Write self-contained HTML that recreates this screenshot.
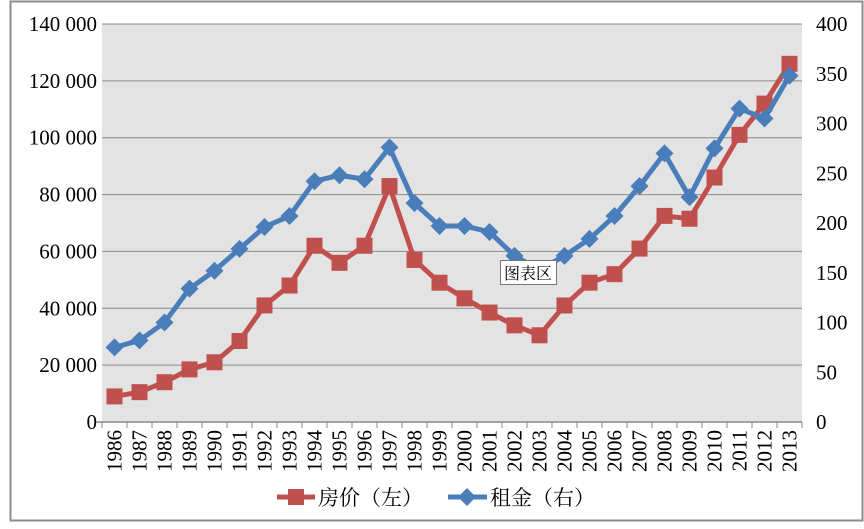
<!DOCTYPE html>
<html><head><meta charset="utf-8"><style>
body{margin:0;background:#fff;}
svg text{font-family:"Liberation Serif","Noto Serif CJK SC",serif;}
</style></head><body>
<svg width="864" height="524" xmlns="http://www.w3.org/2000/svg">
<rect x="10.5" y="1.5" width="852" height="519" fill="#fff" stroke="#8c8c8c" stroke-width="2"/>
<g id="g"></g>
</svg>
<script>
const years=["1986","1987","1988","1989","1990","1991","1992","1993","1994","1995","1996","1997","1998","1999","2000","2001","2002","2003","2004","2005","2006","2007","2008","2009","2010","2011","2012","2013"];
const priceValues=[9000,10500,14000,18500,21000,28500,41000,48000,62000,56000,62000,83000,57000,49000,43500,38500,34000,30500,41000,49000,52000,61000,72500,71500,86000,101000,112000,126000];
const rentValues=[75,82,100,134,152,174,196,207,242,248,244,276,220,197,197,191,167,153,167,184,207,237,270,226,275,315,305,348];
const leftTicks=[0,20000,40000,60000,80000,100000,120000,140000];
const rightTicks=[0,50,100,150,200,250,300,350,400];
const X0=102,X1=802,Y0=422,Y1=24;
const NS="http://www.w3.org/2000/svg";
const g=document.getElementById('g');
function mk(t,a,txt){const e=document.createElementNS(NS,t);for(const k in a)e.setAttribute(k,a[k]);if(txt!==undefined)e.textContent=txt;g.appendChild(e);return e;}
const xs=i=>X0+(i+0.5)*(X1-X0)/years.length;
const yl=v=>Y0-v/140000*(Y0-Y1);
const yr=v=>Y0-v/400*(Y0-Y1);
let e=mk('rect',{x:X0,y:Y1,width:X1-X0,height:Y0-Y1,fill:'#e3e3e3'});


leftTicks.forEach(v=>{
 if(v>0){e=mk('line',{x1:X0,x2:X1,y1:yl(v),y2:yl(v),stroke:'#8a8a8a','stroke-width':1});
 
 }
 e=mk('text',{x:97,y:yl(v)+7,'text-anchor':'end','font-size':21,fill:'#000'},v===0?'0':(v/1000)+' 000');
 
 
});
rightTicks.forEach(v=>{
 e=mk('text',{x:816,y:yr(v)+7,'font-size':21,fill:'#000'},String(v));
 
 
});
e=mk('line',{x1:X0-6,x2:X1,y1:Y0,y2:Y0,stroke:'#8a8a8a','stroke-width':1.5});


for(let i=0;i<=years.length;i++){
 e=mk('line',{x1:X0+i*25,x2:X0+i*25,y1:Y0,y2:Y0+6,stroke:'#8a8a8a'});
 
 
}
years.forEach((y,i)=>{
 e=mk('text',{x:0,y:0,'font-size':21,'text-anchor':'end',transform:`translate(${xs(i)+7},430) rotate(-90)`},y);
 
 
});
e=mk('polyline',{points:priceValues.map((v,i)=>xs(i)+','+yl(v)).join(' '),fill:'none',stroke:'#c0504d','stroke-width':5,'stroke-linejoin':'round'});


priceValues.forEach((v,i)=>{
 e=mk('rect',{x:xs(i)-8,y:yl(v)-8,width:16,height:16,fill:'#c0504d'});
 
 
});
e=mk('polyline',{points:rentValues.map((v,i)=>xs(i)+','+yr(v)).join(' '),fill:'none',stroke:'#4a7ebb','stroke-width':5,'stroke-linejoin':'round'});


rentValues.forEach((v,i)=>{
 const cx=xs(i),cy=yr(v);
 e=mk('polygon',{points:`${cx},${cy-9} ${cx+9},${cy} ${cx},${cy+9} ${cx-9},${cy}`,fill:'#4a7ebb'});
 
 
});
e=mk('rect',{x:500.5,y:260.5,width:56,height:24,fill:'#fff',stroke:'#777'});


e=mk('text',{x:528,y:279,'font-size':16,'text-anchor':'middle','font-family':'Noto Sans CJK SC, sans-serif'},'图表区');


e=mk('line',{x1:277,x2:315,y1:497,y2:497,stroke:'#c0504d','stroke-width':5});


e=mk('rect',{x:288,y:489,width:16,height:16,fill:'#c0504d'});


e=mk('text',{x:318,y:505,'font-size':21},'房价（左）');


e=mk('line',{x1:448,x2:487,y1:497,y2:497,stroke:'#4a7ebb','stroke-width':5});


e=mk('polygon',{points:'467,488 476,497 467,506 458,497',fill:'#4a7ebb'});


e=mk('text',{x:490,y:505,'font-size':21},'租金（右）');


</script>
</body></html>
